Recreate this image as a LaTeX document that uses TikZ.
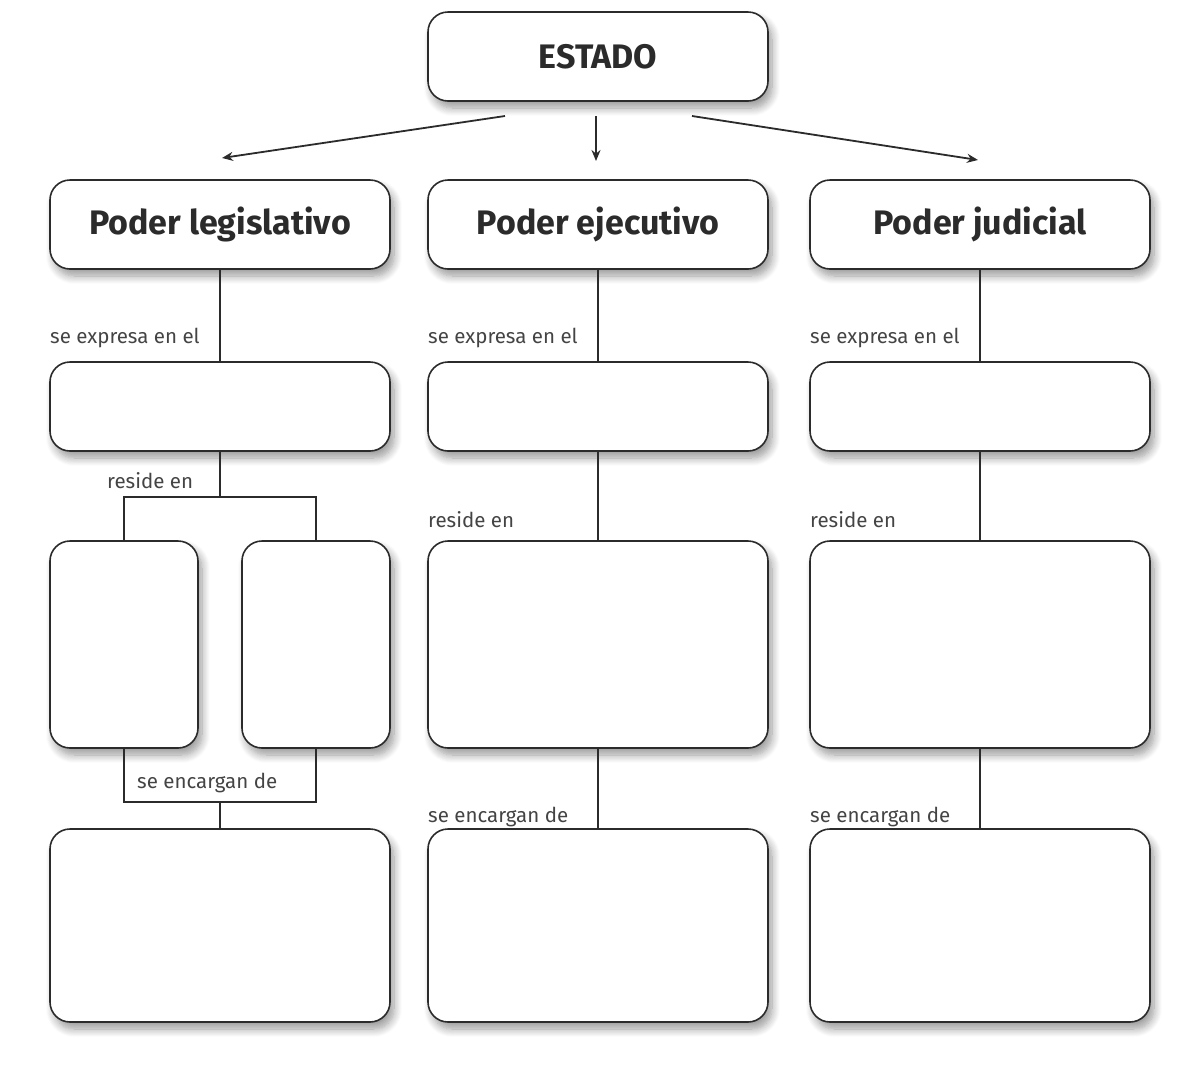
\documentclass[tikz,border=0pt]{standalone}
\usepackage{fontspec}
\setmainfont{Fira Sans}
\usetikzlibrary{arrows.meta,shadows.blur}
\definecolor{ink}{HTML}{2B2B2B}
\definecolor{lbl}{HTML}{444444}
\tikzset{
  box/.style={draw=ink, line width=1.6pt, rounded corners=20pt, fill=white,
    anchor=north west, inner sep=0pt, outer sep=0pt,
    blur shadow={shadow xshift=4pt, shadow yshift=-7pt, shadow blur steps=10, shadow opacity=40, shadow blur radius=8pt}},
  title/.style={font=\bfseries\fontsize{34}{40}\selectfont, text=ink},
  lab/.style={font=\fontsize{20.5}{24}\selectfont, text=lbl, anchor=west, inner sep=0pt},
  conn/.style={draw=ink, line width=1.8pt},
  arr/.style={draw=ink, line width=1.8pt, -{Stealth[length=11pt,width=9pt]}}
}
\begin{document}
\begin{tikzpicture}[x=1pt,y=-1pt]
\useasboundingbox (0,0) rectangle (1179,1080);
% top
\node[box, minimum width=340pt, minimum height=89pt, title] (estado) at (428,12) {ESTADO};
% row 1
\node[box, minimum width=340pt, minimum height=89pt, title] (pl) at (50,180) {Poder legislativo};
\node[box, minimum width=340pt, minimum height=89pt, title] (pe) at (428,180) {Poder ejecutivo};
\node[box, minimum width=340pt, minimum height=89pt, title] (pj) at (810,180) {Poder judicial};
% row 2
\node[box, minimum width=340pt, minimum height=89pt] (l2) at (50,362) {};
\node[box, minimum width=340pt, minimum height=89pt] (e2) at (428,362) {};
\node[box, minimum width=340pt, minimum height=89pt] (j2) at (810,362) {};
% row 3
\node[box, minimum width=148pt, minimum height=207pt] (la) at (50,541) {};
\node[box, minimum width=148pt, minimum height=207pt] (lb) at (242,541) {};
\node[box, minimum width=340pt, minimum height=207pt] (e3) at (428,541) {};
\node[box, minimum width=340pt, minimum height=207pt] (j3) at (810,541) {};
% row 4
\node[box, minimum width=340pt, minimum height=193pt] (l4) at (50,829) {};
\node[box, minimum width=340pt, minimum height=193pt] (e4) at (428,829) {};
\node[box, minimum width=340pt, minimum height=193pt] (j4) at (810,829) {};
% arrows
\coordinate (s1) at (505,116); \coordinate (t1) at (222,158);
\coordinate (s2) at (596,116); \coordinate (t2) at (596,161);
\coordinate (s3) at (692,116); \coordinate (t3) at (978,160);
\draw[arr] (s1) -- (t1);
\draw[arr] (s2) -- (t2);
\draw[arr] (s3) -- (t3);
% connectors
\coordinate (jl) at (l2.south |- 0,497);
\coordinate (jb) at (l4.north |- 0,802);
\draw[conn] (pl) -- (l2);
\draw[conn] (l2.south) -- (jl);
\draw[conn] (la.north) |- (jl) -| (lb.north);
\draw[conn] (la.south) |- (jb) -| (lb.south);
\draw[conn] (jb) -- (l4.north);
\draw[conn] (pe) -- (e2);
\draw[conn] (e2) -- (e3);
\draw[conn] (e3) -- (e4);
\draw[conn] (pj) -- (j2);
\draw[conn] (j2) -- (j3);
\draw[conn] (j3) -- (j4);
% labels
\node[lab] (t_le) at (50,338) {se expresa en el};
\node[lab] (t_ee) at (428,338) {se expresa en el};
\node[lab] (t_je) at (810,338) {se expresa en el};
\node[lab] (t_lr) at (107,481) {reside en};
\node[lab] (t_er) at (428,520) {reside en};
\node[lab] (t_jr) at (810,520) {reside en};
\node[lab] (t_lc) at (137,783) {se encargan de};
\node[lab] (t_ec) at (428,817) {se encargan de};
\node[lab] (t_jc) at (810,817) {se encargan de};
\end{tikzpicture}
\end{document}
